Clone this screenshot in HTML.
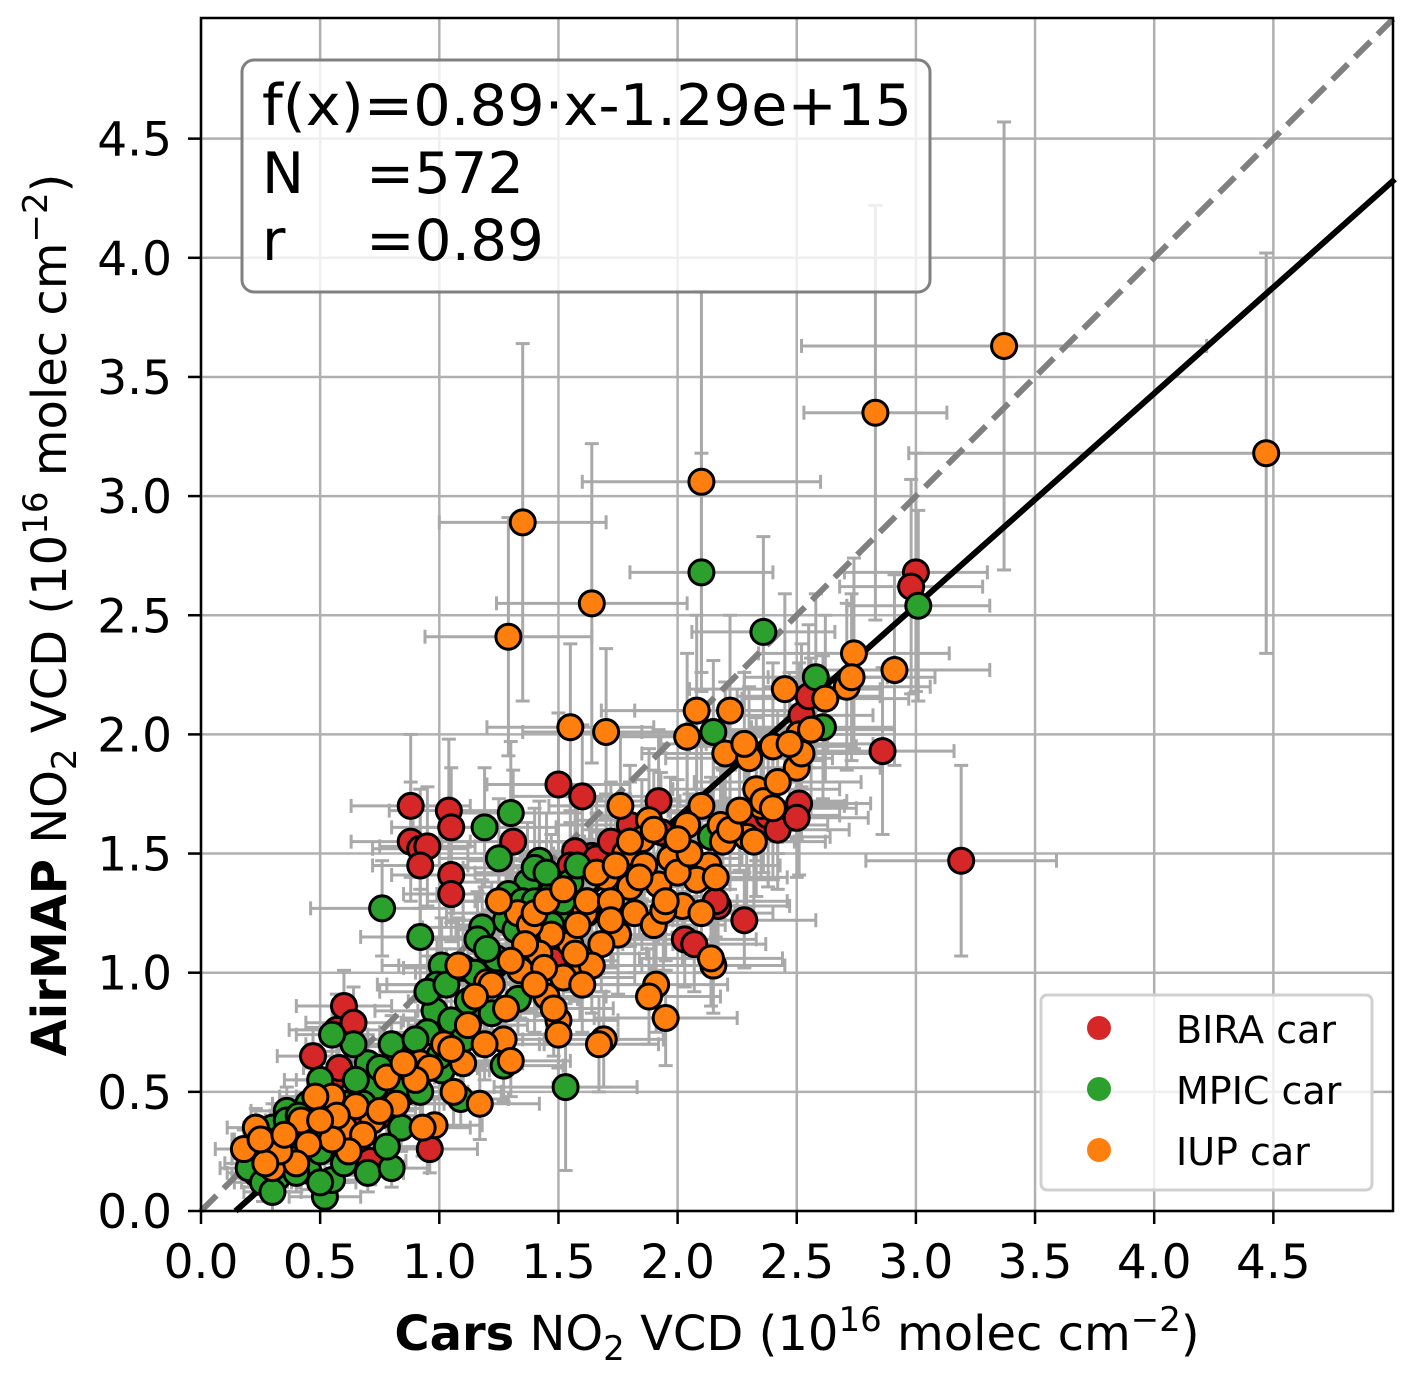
<!DOCTYPE html>
<html><head><meta charset="utf-8"><style>
html,body{margin:0;padding:0;background:#fff;}
svg{display:block;font-family:"DejaVu Sans","Liberation Sans",sans-serif;}
</style></head><body>
<svg id="chart" width="1414" height="1377" viewBox="0 0 1414 1377" xmlns="http://www.w3.org/2000/svg">
<g id="grid"></g>
<g id="errs"></g>
<line id="oneone" stroke="#808080" stroke-width="6" stroke-dasharray="22,10"/>
<line id="fit" stroke="#000" stroke-width="6"/>
<g id="pts"></g>
<rect x="201" y="18" width="1192" height="1193" fill="none" stroke="#000" stroke-width="2.5"/>
<g id="ticks"></g>
<g>
<rect x="242" y="60" width="688" height="232" rx="12" fill="#fff" fill-opacity="0.8" stroke="#808080" stroke-width="3"/>
<text x="262" y="125" font-size="57" textLength="650" lengthAdjust="spacingAndGlyphs">f(x)=0.89·x-1.29e+15</text>
<text x="262" y="193" font-size="57" textLength="42" lengthAdjust="spacingAndGlyphs">N</text>
<text x="366" y="193" font-size="57" textLength="158" lengthAdjust="spacingAndGlyphs">=572</text>
<text x="262" y="260" font-size="57">r</text>
<text x="366" y="260" font-size="57" textLength="178" lengthAdjust="spacingAndGlyphs">=0.89</text>
</g>
<g>
<rect x="1041" y="995" width="331" height="195" rx="6" fill="#fff" fill-opacity="0.8" stroke="#d0d0d0" stroke-width="3"/>
<circle cx="1099" cy="1028" r="12" fill="#d62728"/>
<text x="1176" y="1043" font-size="38">BIRA car</text>
<circle cx="1099" cy="1089" r="12" fill="#2ca02c"/>
<text x="1176" y="1104" font-size="38">MPIC car</text>
<circle cx="1099" cy="1150" r="12" fill="#ff7f0e"/>
<text x="1176" y="1165" font-size="38">IUP car</text>
</g>
<text x="797" y="1350" font-size="48" text-anchor="middle"><tspan font-weight="bold">Cars</tspan> NO<tspan font-size="34" dy="10">2</tspan><tspan dy="-10"> VCD (10</tspan><tspan font-size="34" dy="-19">16</tspan><tspan dy="19"> molec cm</tspan><tspan font-size="34" dy="-19">−2</tspan><tspan dy="19">)</tspan></text>
<text transform="translate(66,615) rotate(-90)" font-size="48" text-anchor="middle"><tspan font-weight="bold">AirMAP</tspan> NO<tspan font-size="34" dy="10">2</tspan><tspan dy="-10"> VCD (10</tspan><tspan font-size="34" dy="-19">16</tspan><tspan dy="19"> molec cm</tspan><tspan font-size="34" dy="-19">−2</tspan><tspan dy="19">)</tspan></text>
</svg>
<script>
const tickValues = [0,0.5,1,1.5,2,2.5,3,3.5,4,4.5];
const tickLabels = ["0.0","0.5","1.0","1.5","2.0","2.5","3.0","3.5","4.0","4.5"];
const fitSlope = 0.89;
const fitIntercept = -0.129;
// [x, y, xerr, yerr]
const biraPoints = [[3.00,2.68,0.3,0.5],[2.98,2.62,0.3,0.45],[2.86,1.93,0.3,0.35],[3.19,1.47,0.4,0.4],[2.51,1.71,0.3,0.3],[1.50,1.79,0.3,0.3],[1.60,1.74,0.3,0.3],[0.88,1.70,0.25,0.3],[1.04,1.68,0.25,0.3],[1.05,1.61,0.25,0.25],[0.88,1.55,0.25,0.25],[0.92,1.52,0.2,0.25],[0.95,1.53,0.2,0.25],[0.92,1.45,0.2,0.25],[1.05,1.41,0.25,0.2],[1.05,1.33,0.2,0.2],[1.92,1.72,0.3,0.3],[1.97,1.57,0.3,0.25],[1.64,1.49,0.3,0.25],[1.57,1.51,0.3,0.25],[2.17,1.28,0.3,0.25],[2.28,1.22,0.3,0.2],[2.03,1.14,0.3,0.2],[2.07,1.12,0.3,0.2],[0.60,0.86,0.2,0.15],[0.57,0.76,0.2,0.15],[0.64,0.79,0.2,0.15],[0.47,0.65,0.15,0.12],[0.96,0.26,0.2,0.1],[0.71,0.21,0.15,0.1],[0.71,0.49,0.15,0.12],[1.31,1.55,0.3,0.3],[2.52,2.08,0.3,0.3],[2.55,2.16,0.3,0.3],[2.33,1.62,0.3,0.3],[2.38,1.66,0.3,0.3],[1.70,1.50,0.3,0.25],[0.55,0.55,0.15,0.12],[0.62,0.40,0.15,0.1],[0.66,0.30,0.15,0.1],[0.42,0.34,0.12,0.1],[0.50,0.45,0.15,0.1],[1.48,1.05,0.25,0.2],[1.93,1.59,0.3,0.25],[2.16,1.30,0.3,0.25],[0.78,0.47,0.15,0.12],
[1.66,1.48,0.3,0.25],[1.72,1.55,0.3,0.25],[1.80,1.62,0.3,0.25],[1.55,1.45,0.3,0.25],[2.05,1.50,0.3,0.25],[2.42,1.60,0.3,0.25],[2.50,1.65,0.3,0.25],[0.58,0.60,0.15,0.12],[0.68,0.55,0.15,0.12],[0.75,0.40,0.15,0.1],[0.86,0.50,0.2,0.12],[1.40,1.12,0.25,0.2],[1.62,1.30,0.3,0.2],[0.52,0.42,0.15,0.1],[0.40,0.30,0.12,0.1]];
const mpicPoints = [[2.10,2.68,0.3,0.5],[3.01,2.54,0.3,0.4],[2.36,2.43,0.3,0.4],[2.58,2.24,0.3,0.35],[2.61,2.03,0.3,0.3],[2.15,2.01,0.3,0.3],[1.53,0.52,0.3,0.35],[0.76,1.27,0.3,0.2],[1.30,1.67,0.3,0.3],[1.19,1.61,0.3,0.25],[1.25,1.48,0.25,0.25],[1.42,1.47,0.3,0.25],[0.92,1.15,0.25,0.2],[1.37,1.38,0.3,0.25],[1.47,1.33,0.3,0.25],[1.55,1.38,0.3,0.25],[1.49,1.24,0.3,0.2],[1.01,1.03,0.25,0.2],[0.99,0.95,0.25,0.2],[0.98,0.84,0.25,0.15],[1.16,0.84,0.25,0.15],[1.40,1.44,0.3,0.25],[1.29,1.33,0.3,0.25],[1.18,1.19,0.25,0.2],[1.16,1.14,0.25,0.2],[1.24,1.06,0.25,0.2],[1.33,0.89,0.25,0.15],[1.22,0.83,0.25,0.15],[1.12,0.88,0.25,0.15],[1.05,0.80,0.2,0.15],[0.95,0.75,0.2,0.15],[1.27,0.61,0.25,0.15],[1.01,0.59,0.2,0.12],[1.09,0.47,0.2,0.12],[0.87,0.69,0.2,0.12],[0.80,0.70,0.2,0.12],[0.70,0.62,0.2,0.12],[0.73,0.52,0.2,0.12],[0.64,0.70,0.2,0.12],[0.55,0.74,0.15,0.12],[0.50,0.55,0.15,0.1],[0.45,0.45,0.15,0.1],[0.36,0.42,0.15,0.1],[0.30,0.35,0.12,0.1],[0.27,0.24,0.12,0.08],[0.25,0.15,0.12,0.08],[0.22,0.20,0.12,0.08],[0.32,0.20,0.12,0.08],[0.35,0.30,0.12,0.08],[0.40,0.24,0.12,0.08],[0.29,0.12,0.12,0.08],[0.52,0.06,0.15,0.08],[0.55,0.13,0.15,0.08],[0.70,0.16,0.15,0.08],[0.80,0.18,0.15,0.08],[0.62,0.28,0.15,0.08],[0.47,0.30,0.15,0.08],[0.39,0.35,0.12,0.08],[0.26,0.30,0.12,0.08],[0.84,0.35,0.15,0.1],[0.78,0.27,0.15,0.1],[0.60,0.45,0.15,0.1],[2.14,1.57,0.3,0.25],[1.58,1.45,0.3,0.25],[1.62,1.25,0.3,0.25],[0.45,0.17,0.12,0.08],[0.33,0.26,0.12,0.08],
[0.28,0.22,0.12,0.08],[0.31,0.28,0.12,0.08],[0.34,0.18,0.12,0.08],[0.38,0.28,0.12,0.08],[0.42,0.30,0.12,0.08],[0.25,0.22,0.12,0.08],[0.23,0.16,0.12,0.08],[0.28,0.16,0.12,0.08],[0.36,0.38,0.12,0.08],[0.41,0.40,0.12,0.08],[0.48,0.35,0.15,0.1],[0.50,0.25,0.15,0.1],[0.58,0.35,0.15,0.1],[0.65,0.55,0.15,0.1],[0.68,0.45,0.15,0.1],[0.75,0.60,0.2,0.12],[0.85,0.52,0.2,0.12],[0.90,0.72,0.2,0.12],[0.95,0.92,0.2,0.15],[1.03,0.95,0.25,0.15],[1.10,1.02,0.25,0.2],[1.15,1.00,0.25,0.2],[1.20,1.10,0.25,0.2],[1.28,1.22,0.25,0.2],[1.35,1.30,0.3,0.2],[1.45,1.42,0.3,0.25],[1.52,1.30,0.3,0.25],[1.32,1.18,0.25,0.2],[1.10,0.72,0.25,0.15],[1.00,0.65,0.2,0.15],[0.92,0.50,0.2,0.12],[0.60,0.20,0.15,0.08],[0.50,0.12,0.15,0.08],[0.32,0.14,0.12,0.08],[0.40,0.16,0.12,0.08],[1.40,1.30,0.3,0.2],[1.47,1.20,0.3,0.2],[0.20,0.18,0.12,0.08],[0.26,0.12,0.12,0.08],[0.30,0.08,0.12,0.08]];
const iupPoints = [[3.37,3.63,0.85,0.94],[2.83,3.35,0.3,0.87],[4.47,3.18,1.5,0.84],[2.10,3.06,0.5,0.8],[1.35,2.89,0.35,0.75],[1.64,2.55,0.4,0.67],[1.29,2.41,0.35,0.5],[2.74,2.34,0.4,0.4],[2.91,2.27,0.4,0.4],[2.45,2.19,0.4,0.4],[2.08,2.10,0.4,0.4],[2.22,2.10,0.4,0.4],[1.55,2.03,0.35,0.35],[1.70,2.01,0.35,0.35],[2.04,1.99,0.35,0.35],[2.40,1.95,0.35,0.35],[2.20,1.92,0.35,0.3],[2.51,2.00,0.35,0.3],[2.56,2.02,0.35,0.3],[2.35,1.70,0.35,0.3],[1.76,1.70,0.3,0.3],[2.10,1.70,0.3,0.3],[1.88,1.64,0.3,0.3],[2.18,1.62,0.3,0.3],[2.04,1.62,0.3,0.3],[2.71,2.20,0.35,0.35],[2.73,2.24,0.35,0.35],[2.62,2.15,0.35,0.35],[2.50,1.86,0.35,0.3],[2.52,1.92,0.35,0.3],[2.30,1.90,0.35,0.3],[2.33,1.77,0.35,0.3],[2.29,1.57,0.35,0.3],[2.36,1.72,0.35,0.3],[2.19,1.55,0.3,0.3],[2.13,1.45,0.3,0.25],[1.97,1.48,0.3,0.25],[1.92,1.37,0.3,0.25],[2.02,1.28,0.3,0.25],[2.08,1.39,0.3,0.25],[1.82,1.25,0.3,0.25],[1.90,1.20,0.3,0.25],[1.75,1.16,0.3,0.25],[1.68,1.12,0.3,0.2],[1.80,1.36,0.3,0.25],[1.70,1.40,0.3,0.25],[1.61,1.25,0.3,0.25],[1.59,1.00,0.3,0.2],[1.64,1.03,0.3,0.2],[1.55,1.12,0.3,0.2],[1.47,1.16,0.3,0.2],[1.52,0.98,0.3,0.2],[1.45,0.90,0.25,0.2],[1.50,0.80,0.25,0.2],[1.50,0.74,0.25,0.2],[1.69,0.72,0.25,0.2],[1.67,0.70,0.25,0.2],[1.95,0.81,0.3,0.2],[1.91,0.95,0.3,0.2],[1.88,0.90,0.3,0.2],[1.34,1.01,0.3,0.2],[1.33,1.25,0.3,0.2],[1.38,1.20,0.3,0.2],[1.25,1.30,0.3,0.2],[1.42,1.08,0.3,0.2],[1.27,0.72,0.25,0.15],[1.30,0.63,0.25,0.15],[1.19,0.70,0.25,0.15],[1.17,0.45,0.25,0.15],[1.10,0.62,0.25,0.15],[1.06,0.50,0.2,0.15],[1.02,0.70,0.2,0.15],[0.98,0.36,0.2,0.12],[0.93,0.35,0.2,0.12],[0.87,0.60,0.2,0.12],[0.92,0.62,0.2,0.12],[0.78,0.56,0.2,0.12],[0.72,0.38,0.2,0.1],[0.60,0.35,0.15,0.1],[0.55,0.48,0.15,0.1],[0.48,0.48,0.15,0.1],[0.42,0.38,0.15,0.1],[0.37,0.22,0.12,0.08],[0.30,0.18,0.12,0.08],[0.23,0.35,0.12,0.08],[0.18,0.26,0.12,0.08],[0.65,0.44,0.15,0.1],[0.57,0.40,0.15,0.1],[1.20,0.96,0.25,0.2],[1.08,1.03,0.25,0.2],[1.78,1.50,0.3,0.25],[1.85,1.56,0.3,0.25],[2.00,1.42,0.3,0.25],[1.94,1.26,0.3,0.25],[2.15,1.03,0.3,0.2],[2.14,1.06,0.3,0.2],[2.40,1.69,0.35,0.3],[2.28,1.96,0.35,0.3],
[1.40,1.25,0.3,0.2],[1.45,1.30,0.3,0.2],[1.52,1.35,0.3,0.2],[1.58,1.20,0.3,0.2],[1.62,1.30,0.3,0.2],[1.66,1.42,0.3,0.25],[1.72,1.30,0.3,0.25],[1.74,1.45,0.3,0.25],[1.80,1.55,0.3,0.25],[1.86,1.45,0.3,0.25],[1.90,1.60,0.3,0.25],[1.95,1.30,0.3,0.25],[2.05,1.50,0.3,0.25],[2.10,1.25,0.3,0.25],[2.16,1.40,0.3,0.25],[2.22,1.60,0.3,0.25],[2.26,1.68,0.3,0.25],[2.32,1.55,0.3,0.25],[2.42,1.80,0.35,0.3],[2.47,1.96,0.35,0.3],[1.36,1.12,0.25,0.2],[1.30,1.05,0.25,0.2],[1.22,0.95,0.25,0.2],[1.15,0.90,0.25,0.15],[1.12,0.78,0.25,0.15],[1.05,0.68,0.2,0.15],[0.96,0.60,0.2,0.12],[0.90,0.55,0.2,0.12],[0.82,0.45,0.2,0.12],[0.75,0.42,0.15,0.1],[0.68,0.32,0.15,0.1],[0.62,0.25,0.15,0.1],[0.55,0.30,0.15,0.1],[0.50,0.38,0.15,0.1],[0.45,0.28,0.12,0.08],[0.40,0.20,0.12,0.08],[0.33,0.25,0.12,0.08],[0.27,0.20,0.12,0.08],[0.25,0.30,0.12,0.08],[0.35,0.32,0.12,0.08],[1.44,1.02,0.25,0.2],[1.57,1.08,0.3,0.2],[1.72,1.22,0.3,0.2],[1.84,1.40,0.3,0.25],[2.00,1.56,0.3,0.25],[1.60,0.95,0.3,0.2],[1.48,0.85,0.25,0.2],[1.40,0.95,0.25,0.2],[1.28,0.85,0.25,0.15],[0.85,0.62,0.2,0.12]];

const NS="http://www.w3.org/2000/svg";
const X0=201, Y0=1211, SC=238.3;
function sx(v){return X0+v*SC;}
function sy(v){return Y0-v*SC;}
function mk(tag,attrs,parent){const e=document.createElementNS(NS,tag);for(const k in attrs)e.setAttribute(k,attrs[k]);parent.appendChild(e);return e;}

const grid=document.getElementById('grid'), ticks=document.getElementById('ticks');
tickValues.forEach((v,i)=>{
  const gx=mk('line',{x1:sx(v),x2:sx(v),y1:18,y2:1211,stroke:'#b0b0b0','stroke-width':2.5},grid);
  
  
  const gy=mk('line',{x1:201,x2:1393,y1:sy(v),y2:sy(v),stroke:'#b0b0b0','stroke-width':2.5},grid);
  
  
  mk('line',{x1:sx(v),x2:sx(v),y1:1211,y2:1224,stroke:'#000','stroke-width':2.5},ticks);
  mk('line',{x1:188,x2:201,y1:sy(v),y2:sy(v),stroke:'#000','stroke-width':2.5},ticks);
  const tx=mk('text',{x:sx(v),y:1278,'font-size':47,'text-anchor':'middle'},ticks);
  tx.textContent=tickLabels[i];
  
  
  const ty=mk('text',{x:172,y:sy(v)+17,'font-size':47,'text-anchor':'end'},ticks);
  ty.textContent=tickLabels[i];
  
  
});

const oo=document.getElementById('oneone');
oo.setAttribute('x1',sx(0));oo.setAttribute('y1',sy(0));oo.setAttribute('x2',sx(5.01));oo.setAttribute('y2',sy(5.01));
const xs=(0-fitIntercept)/fitSlope;
const fit=document.getElementById('fit');
fit.setAttribute('x1',sx(xs));fit.setAttribute('y1',sy(0));fit.setAttribute('x2',sx(5.01));fit.setAttribute('y2',sy(fitSlope*5.01+fitIntercept));

const errs=document.getElementById('errs'), pts=document.getElementById('pts');
const clipX=v=>Math.max(201,Math.min(1393,v)), clipY=v=>Math.max(18,Math.min(1211,v));
const series=[[biraPoints,'#d62728','bira'],[mpicPoints,'#2ca02c','mpic'],[iupPoints,'#ff7f0e','iup']];
series.forEach(s=>{s[0].forEach(p=>{
  const cx=sx(p[0]), cy=sy(p[1]), xa=sx(p[0]-p[2]), xb=sx(p[0]+p[2]), ya=sy(p[1]-p[3]), yb=sy(p[1]+p[3]);
  const st={stroke:'#a9a9a9','stroke-width':3};
  mk('line',Object.assign({x1:clipX(xa),x2:clipX(xb),y1:cy,y2:cy},st),errs);
  mk('line',Object.assign({x1:cx,x2:cx,y1:clipY(ya),y2:clipY(yb)},st),errs);
  if(xa>201) mk('line',Object.assign({x1:xa,x2:xa,y1:cy-7,y2:cy+7},st),errs);
  if(xb<1393) mk('line',Object.assign({x1:xb,x2:xb,y1:cy-7,y2:cy+7},st),errs);
  if(ya<1211) mk('line',Object.assign({x1:cx-7,x2:cx+7,y1:ya,y2:ya},st),errs);
  if(yb>18) mk('line',Object.assign({x1:cx-7,x2:cx+7,y1:yb,y2:yb},st),errs);
});});
series.forEach(s=>{s[0].forEach(p=>{
  const c=mk('circle',{cx:sx(p[0]),cy:sy(p[1]),r:12.5,fill:s[1],stroke:'#000','stroke-width':3},pts);
  
  
});});
</script>
</body></html>
